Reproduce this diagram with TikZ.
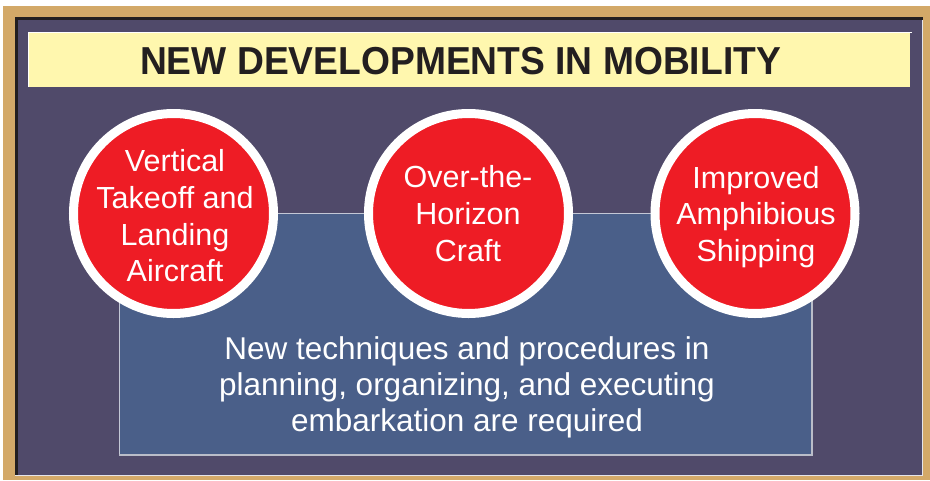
\documentclass[tikz,border=0pt]{standalone}
\usepackage{fontspec}
\setmainfont{Liberation Sans}
\definecolor{tan}{HTML}{D3A968}
\definecolor{panel}{HTML}{504A6A}
\definecolor{titlebar}{HTML}{FFF7AE}
\definecolor{bluebox}{HTML}{4A5F89}
\definecolor{redfill}{HTML}{EE1C25}
\definecolor{darkline}{HTML}{231F20}
\definecolor{boxedge}{HTML}{C4C8D6}
\tikzset{
  bubble/.style={circle, fill=redfill, draw=white, line width=9pt, minimum size=200pt, inner sep=0pt},
  bubbletext/.style={text=white, align=center, inner sep=0pt, font=\fontsize{30.5pt}{36.7pt}\selectfont},
  bodytext/.style={text=white, align=center, inner sep=0pt, font=\fontsize{31.5pt}{35.8pt}\selectfont},
  titletext/.style={text=darkline, inner sep=0pt, font=\fontsize{39pt}{44pt}\selectfont\bfseries}
}
\begin{document}
\begin{tikzpicture}[x=1pt,y=-1pt]
\useasboundingbox (0,0) rectangle (930,480);
\fill[white] (0,0) rectangle (930,480);
% tan frame
\fill[tan] (3,6) rectangle (930,480);
% dark panel
\fill[panel] (15,17) rectangle (923,476);
\draw[darkline, line width=3pt] (16.5,476) -- (16.5,18.5) -- (923,18.5);
\draw[white!85!panel, line width=1.5pt] (15,475.3) -- (922.3,475.3) -- (922.3,20);
% title bar
\fill[titlebar] (28,32) rectangle (910,87);
\draw[white, line width=1pt] (28,87) -- (28,32.5) -- (912,32.5);
\node[titletext] (title) at (460.5,61) {\scalebox{0.954}[1]{NEW DEVELOPMENTS IN MOBILITY}};
% blue box
\fill[bluebox] (119,213) rectangle (812,455);
\draw[boxedge, line width=0.9pt] (119.5,455) -- (119.5,213.5) -- (812,213.5);
\draw[boxedge!85!gray, line width=1.8pt] (119,454.6) -- (811.6,454.6) -- (811.6,213);
\node[bodytext] (body) at (467,387.5) {New techniques and procedures in\\planning, organizing, and executing\\embarkation are required};
% circles
\node[bubble] (c1) at (173.5,213.5) {};
\node[bubble] (c2) at (468.5,213.5) {};
\node[bubble] (c3) at (755,213.5) {};
\node[bubbletext] (t1) at (175,215.8) {Vertical\\Takeoff and\\Landing\\Aircraft};
\node[bubbletext] (t2) at (468,213.7) {Over-the-\\Horizon\\Craft};
\node[bubbletext] (t3) at (756,216.9) {Improved\\Amphibious\\Shipping};
\end{tikzpicture}
\end{document}
